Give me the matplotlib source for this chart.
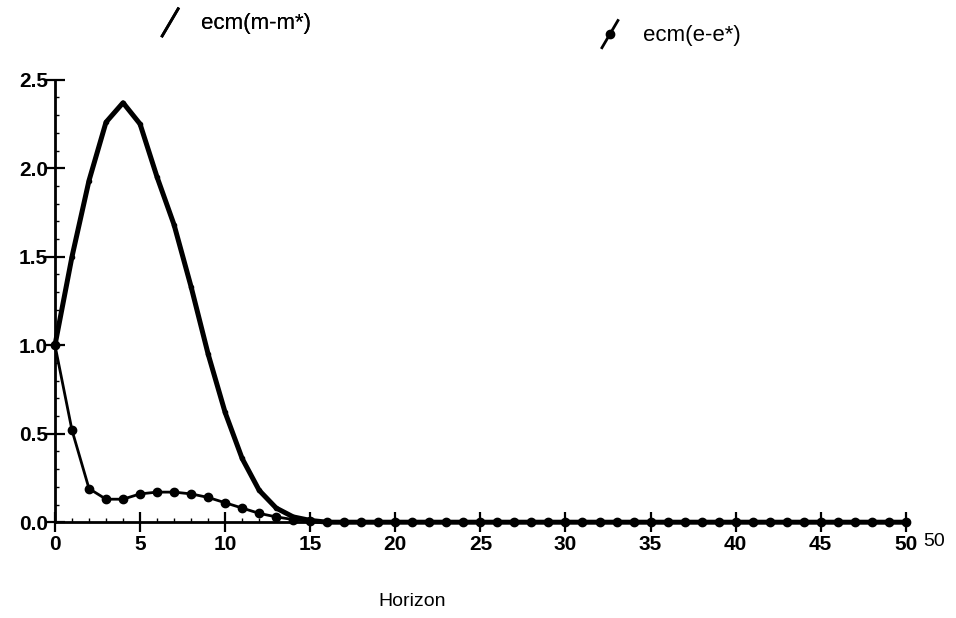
import matplotlib
matplotlib.use('Agg')
import matplotlib.pyplot as plt
from matplotlib.legend_handler import HandlerLine2D
from matplotlib.lines import Line2D
from matplotlib.ticker import MultipleLocator
import numpy as np

plt.rcParams['font.family'] = ['Liberation Sans', 'DejaVu Sans']

horizon = np.arange(0, 51)
# ecm(m-m*) values, horizons 0..15, zero afterwards
mm_head = [1.00, 1.50, 1.93, 2.26, 2.37, 2.25, 1.95, 1.68, 1.33, 0.95,
           0.62, 0.36, 0.18, 0.08, 0.03, 0.01]
# ecm(e-e*) values, horizons 0..15, zero afterwards
ee_head = [1.00, 0.52, 0.19, 0.13, 0.13, 0.16, 0.17, 0.17, 0.16, 0.14,
           0.11, 0.08, 0.05, 0.03, 0.015, 0.005]
mm = np.array(mm_head + [0.0] * (len(horizon) - len(mm_head)))
ee = np.array(ee_head + [0.0] * (len(horizon) - len(ee_head)))

y_ticks = [0.0, 0.5, 1.0, 1.5, 2.0, 2.5]
x_ticks = [0, 5, 10, 15, 20, 25, 30, 35, 40, 45, 50]


class SlashHandler(HandlerLine2D):
    # legend handle drawn as a slanted stroke, with a dot if the series has big markers
    def create_artists(self, legend, orig_handle, xdescent, ydescent,
                       width, height, fontsize, trans):
        x0, x1 = -xdescent + width * 0.1, -xdescent + width * 0.55
        y0, y1 = -ydescent - height * 0.45, -ydescent + height * 1.3
        line = Line2D([x0, x1], [y0, y1], color='black', lw=2.0)
        line.set_transform(trans)
        out = [line]
        if orig_handle.get_markersize() >= 5:
            m = Line2D([(x0 + x1) / 2], [(y0 + y1) / 2], marker='o',
                       ms=6, color='black', ls='none')
            m.set_transform(trans)
            out.append(m)
        return out


fig = plt.figure(figsize=(9.56, 6.18), dpi=100)
ax = fig.add_axes([0.0575, 0.155, 0.89, 0.716])

l1, = ax.plot(horizon, mm, color='black', lw=3.6, marker='o', ms=3,
              label='ecm(m-m*)', clip_on=False, zorder=3)
l2, = ax.plot(horizon, ee, color='black', lw=2.0, marker='o', ms=6,
              label='ecm(e-e*)', clip_on=False, zorder=3)

ax.set_xlim(0, 50)
ax.set_ylim(0, 2.5)
ax.set_xticks(x_ticks)
ax.set_yticks(y_ticks)
ax.set_xticklabels([str(v) for v in x_ticks])
ax.set_yticklabels(['%.1f' % v for v in y_ticks])
ax.yaxis.set_minor_locator(MultipleLocator(0.1))
ax.xaxis.set_minor_locator(MultipleLocator(1))
ax.tick_params(axis='both', which='major', direction='inout', length=14,
               width=1.6, labelsize=15, pad=2)
ax.tick_params(axis='y', which='major', pad=-2)
ax.tick_params(axis='both', which='minor', direction='in', length=3, width=1)
for lab in ax.get_xticklabels() + ax.get_yticklabels():
    lab.set_fontweight('bold')

ax.spines['top'].set_visible(False)
ax.spines['right'].set_visible(False)
ax.spines['left'].set_linewidth(2)
ax.spines['bottom'].set_linewidth(2)

ax.text(1.02, -0.025, '50', transform=ax.transAxes, fontsize=14,
        ha='left', va='top')

ax.set_xlabel('Horizon', fontsize=14)
ax.xaxis.set_label_coords(0.42, -0.16)

leg1 = fig.legend(handles=[l1], loc='center left', bbox_to_anchor=(0.145, 0.962),
                  frameon=False, fontsize=16, handlelength=1.6, handletextpad=0.3,
                  handler_map={Line2D: SlashHandler()})
fig.legend(handles=[l2], loc='center left', bbox_to_anchor=(0.605, 0.943),
           frameon=False, fontsize=16, handlelength=1.6, handletextpad=0.4,
           handler_map={Line2D: SlashHandler()})
fig.add_artist(leg1)

fig.savefig('out.png', dpi=100)
